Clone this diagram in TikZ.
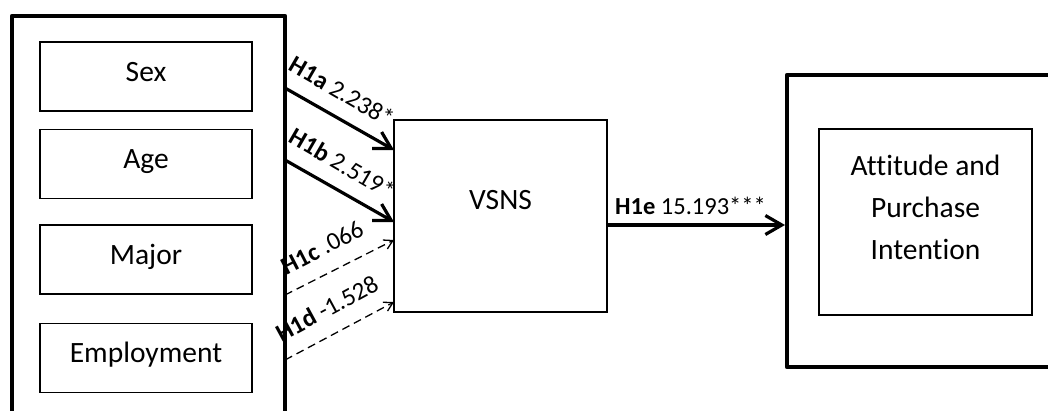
\documentclass[tikz,border=0pt]{standalone}
\usepackage{fontspec}
\setmainfont{Carlito}[Ligatures=NoCommon]
\usetikzlibrary{arrows.meta,calc}
\begin{document}
\begin{tikzpicture}[x=1pt,y=1pt,
  outerbox/.style={draw, line width=4.5pt, line join=round, inner sep=0pt, outer sep=0pt},
  inbox/.style={draw, line width=1.5pt, minimum width=212pt, minimum height=69pt, inner sep=0pt, outer sep=0pt},
  txt/.style={font=\fontsize{29.5}{41.7}\selectfont, anchor=base, inner sep=0pt},
  lbl/.style={font=\fontsize{24.5}{28}\selectfont, inner sep=0pt, anchor=base west},
  rlbl/.style={font=\fontsize{25}{28}\selectfont, inner sep=0pt, anchor=base west},
  solidarr/.style={line width=3.2pt, -{Straight Barb[angle=60:19pt]}},
  dasharr/.style={line width=1.3pt, dash pattern=on 8pt off 5pt, -{Straight Barb[angle=60:10pt]}},
]
\clip (0,0) rectangle (1048,-411);

% left group
\node[outerbox, minimum width=273pt, minimum height=430pt, anchor=north west] (leftgroup) at (12,-16) {};
\node[inbox] (sexbox) at (146,-76.5) {};
\node[inbox] (agebox) at (146,-164) {};
\node[inbox] (majorbox) at (146,-259.5) {};
\node[inbox] (empbox) at (146,-358) {};
\node[txt] (sex) at (146,-82) {Sex};
\node[txt] (age) at (146,-169) {Age};
\node[txt] (major) at (146,-264.5) {Major};
\node[txt] (emp) at (146,-362.5) {Employment};

% VSNS
\node[draw, line width=1.5pt, minimum width=213pt, minimum height=192pt, inner sep=0pt, outer sep=0pt] (vsnsbox) at (500.5,-216) {};
\node[txt] (vsns) at (500.5,-210) {VSNS};

% right group
\node[outerbox, minimum width=290pt, minimum height=292pt, anchor=north west] (rightgroup) at (787,-75) {};
\node[draw, line width=1.5pt, minimum width=213pt, minimum height=186pt, inner sep=0pt, outer sep=0pt] (apibox) at (925.5,-222) {};
\node[txt, align=center, anchor=north] (api) at (925.5,-155) {Attitude and\\Purchase\\Intention};

% connector end points
\coordinate (a1s) at (leftgroup.east |- 0,-88);
\coordinate (a1e) at (vsnsbox.west |- 0,-150);
\coordinate (a2s) at (leftgroup.east |- 0,-160);
\coordinate (a2e) at (vsnsbox.west |- 0,-222);
\coordinate (a3s) at (leftgroup.east |- 0,-295);
\coordinate (a3e) at (vsnsbox.west |- 0,-240);
\coordinate (a4s) at (leftgroup.east |- 0,-360);
\coordinate (a4e) at (vsnsbox.west |- 0,-302);
\coordinate (a5s) at (vsnsbox.east |- 0,-225);
\coordinate (a5e) at (785,-225);

\draw[solidarr] (a1s) -- (a1e);
\draw[solidarr] (a2s) -- (a2e);
\draw[dasharr] (a3s) -- (a3e);
\draw[dasharr] (a4s) -- (a4e);
\draw[solidarr] (a5s) -- (a5e);

% labels
\node[rlbl, rotate=-30.1] (l1a) at ($(a1s)!-7pt!(a1e)!17pt!90:(a1e)$) {\textbf{H1a} 2.238*};
\node[rlbl, rotate=-30.1] (l1b) at ($(a2s)!-7pt!(a2e)!17pt!90:(a2e)$) {\textbf{H1b} 2.519*};
\node[rlbl, rotate=27.2] (l1c) at ($(a3s)!10pt!(a3e)!17pt!90:(a3e)$) {\textbf{H1c} .066};
\node[rlbl, rotate=28.5] (l1d) at ($(a4s)!5pt!(a4e)!17pt!90:(a4e)$) {\textbf{H1d} -1.528};
\node[lbl] (l1e) at (615,-215) {\textbf{H1e} 15.193***};
\end{tikzpicture}
\end{document}
